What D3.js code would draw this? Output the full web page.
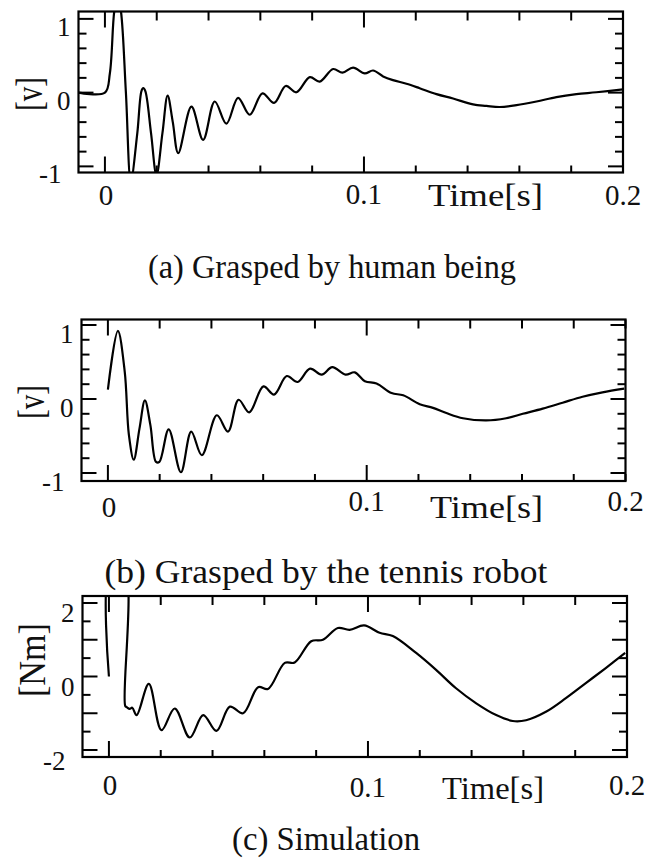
<!DOCTYPE html>
<html><head><meta charset="utf-8">
<script src="https://cdn.jsdelivr.net/npm/d3@7"></script>
<style>body{margin:0;background:#fff}svg{display:block}text{font-family:"Liberation Serif","Times New Roman",serif}</style>
</head><body>
<svg id="chart" width="648" height="861"></svg>
<script>
// ---------------- data ----------------
const timeA = [-0.0102,0,0.0019,0.0036,0.0049,0.0062,0.0081,0.0100,0.0125,0.0141,0.0148,0.0156,0.0178,0.0199,0.0222,0.0242,0.0262,0.0283,0.0334,0.0379,0.0424,0.0469,0.0514,0.0559,0.0608,0.0653,0.0698,0.0739,0.0791,0.0829,0.0881,0.0917,0.0958,0.1003,0.1035,0.1074,0.1112,0.1164,0.1215,0.1280,0.1344,0.1421,0.1473,0.1524,0.1589,0.1666,0.1743,0.1820,0.1897,0.2000];
const valueA = [0,0,0.26,1.10,1.32,1.10,0.00,-1.20,-0.55,0.02,0.06,0.02,-0.55,-1.12,-0.55,-0.04,-0.40,-0.82,-0.19,-0.64,-0.12,-0.42,-0.07,-0.30,-0.01,-0.14,0.09,0.005,0.21,0.15,0.32,0.27,0.34,0.26,0.30,0.22,0.17,0.12,0.06,-0.02,-0.08,-0.16,-0.18,-0.195,-0.17,-0.12,-0.06,-0.02,0.005,0.045];

const timeB = [0,0.00385,0.0065,0.0081,0.0100,0.0122,0.0143,0.0164,0.0186,0.0199,0.0235,0.0282,0.0322,0.0363,0.0421,0.0464,0.0505,0.0546,0.0601,0.0642,0.0691,0.0733,0.0781,0.0826,0.0867,0.0918,0.0954,0.0993,0.1038,0.1096,0.1141,0.1205,0.1256,0.1308,0.1372,0.1462,0.1539,0.1603,0.1680,0.1757,0.1834,0.1911,0.1995];
const valueB = [0.126,0.92,0.37,-0.48,-0.82,-0.40,-0.02,-0.35,-0.85,-0.85,-0.41,-0.99,-0.44,-0.76,-0.22,-0.44,-0.01,-0.18,0.17,0.06,0.31,0.23,0.41,0.33,0.43,0.33,0.36,0.24,0.21,0.08,0.05,-0.07,-0.12,-0.19,-0.26,-0.29,-0.26,-0.20,-0.13,-0.05,0.03,0.09,0.14];

const timeC = [0,0.0006,0.0059,0.0063,0.0070,0.0080,0.0090,0.0107,0.0154,0.0203,0.0254,0.0312,0.0364,0.0415,0.0467,0.0518,0.0576,0.0614,0.0679,0.0717,0.0781,0.0826,0.0884,0.0929,0.0985,0.1045,0.1096,0.1186,0.1263,0.1340,0.1418,0.1495,0.1559,0.1610,0.1687,0.1764,0.1841,0.1918,0.1993];
const valueC = [0,3.0,3.0,-0.80,-0.84,-0.88,-0.85,-1.05,-0.20,-1.46,-0.87,-1.66,-1.05,-1.48,-0.82,-1.00,-0.29,-0.34,0.37,0.38,0.96,1.00,1.32,1.27,1.39,1.19,1.10,0.64,0.18,-0.32,-0.73,-1.05,-1.21,-1.19,-0.96,-0.59,-0.18,0.23,0.64];

const yTickValuesAB = [-1,0,1];
const yTickLabelsAB = ["-1","0","1"];
const yTickValuesC = [-2,0,2];
const yTickLabelsC = ["-2","0","2"];
const xTickValues = [0,0.1,0.2];
const xTickLabels = ["0","0.1","0.2"];
const captions = ["(a) Grasped by human being","(b) Grasped by the tennis robot","(c) Simulation"];
const yTitles = ["[v]","[v]","[Nm]"];
const xTitle = "Time[s]";

// ---------------- layout ----------------
const layout = [
  {t:timeA, v:valueA, left:78.5, right:623, top:11.5, bottom:172.5, yDom:[-1.083,1.10], minorY:0.2, majorY:1,
   yVals:yTickValuesAB, yLabs:yTickLabelsAB, yLabDy:17, xLabBase:[205,204,205], timeX:428, timeW:115, timeBase:206,
   yTitleX:42, yTitleY:94, yTitleW:34, capX:332, capBase:278, capW:368},
  {t:timeB, v:valueB, left:81.5, right:625.5, top:319.5, bottom:481, yDom:[-1.108,1.074], minorY:0.2, majorY:1,
   yVals:yTickValuesAB, yLabs:yTickLabelsAB, yLabDy:18, xLabBase:[517,511,511], timeX:430, timeW:113, timeBase:518,
   yTitleX:44, yTitleY:402, yTitleW:34, capX:326, capBase:583, capW:443},
  {t:timeC, v:valueC, left:82.5, right:627, top:596, bottom:757, yDom:[-2.19,2.19], minorY:0.5, majorY:1,
   yVals:yTickValuesC, yLabs:yTickLabelsC, yLabDy:19.5, xLabBase:[795,797,795], timeX:442, timeW:102, timeBase:799,
   yTitleX:45, yTitleY:660, yTitleW:74, capX:326, capBase:850, capW:188}
];

const svg = d3.select("#chart");

layout.forEach((p, i) => {
  const x = d3.scaleLinear().domain([-0.0102, 0.2]).range([p.left, p.right]);
  const y = d3.scaleLinear().domain(p.yDom).range([p.bottom, p.top]);
  const g = svg.append("g");

  const cid = "clip" + i;
  svg.append("clipPath").attr("id", cid).append("rect")
    .attr("x", p.left).attr("y", p.top).attr("width", p.right - p.left).attr("height", p.bottom - p.top);

  // x ticks every 0.02, major at 0 and 0.1
  const xt = d3.range(0, 0.2001, 0.02);
  xt.forEach(v => {
    const major = Math.abs(v) < 1e-9 || Math.abs(v - 0.1) < 1e-9;
    const xx = x(v);
    g.append("line").attr("x1", xx).attr("x2", xx).attr("y1", p.top).attr("y2", p.top + (major ? 16 : 9))
      .attr("stroke", "#000").attr("stroke-width", 2);
    g.append("line").attr("x1", xx).attr("x2", xx).attr("y1", p.bottom).attr("y2", p.bottom - (major ? 16 : 7))
      .attr("stroke", "#000").attr("stroke-width", 2);
  });
  // y ticks
  const ymin = Math.ceil(p.yDom[0] / p.minorY - 1e-9) * p.minorY;
  const yt = d3.range(ymin, p.yDom[1] + 1e-9, p.minorY);
  yt.forEach(v => {
    const r = v / p.majorY;
    const major = Math.abs(r - Math.round(r)) < 1e-6;
    const yy = y(v);
    const len = major ? 15 : 8;
    g.append("line").attr("x1", p.left).attr("x2", p.left + len).attr("y1", yy).attr("y2", yy)
      .attr("stroke", "#000").attr("stroke-width", 2);
    g.append("line").attr("x1", p.right).attr("x2", p.right - len).attr("y1", yy).attr("y2", yy)
      .attr("stroke", "#000").attr("stroke-width", 2);
  });

  // frame
  g.append("rect").attr("x", p.left).attr("y", p.top).attr("width", p.right - p.left).attr("height", p.bottom - p.top)
    .attr("fill", "none").attr("stroke", "#000").attr("stroke-width", 2.2);

  // curve
  const pts = p.t.map((t, k) => [t, p.v[k]]);
  const line = d3.line().x(d => x(d[0])).y(d => y(d[1])).curve(d3.curveCatmullRom.alpha(0.5));
  g.append("path").datum(pts).attr("d", line).attr("clip-path", `url(#${cid})`)
    .attr("fill", "none").attr("stroke", "#000").attr("stroke-width", 2.2).attr("stroke-linejoin", "round");

  // y tick labels
  p.yVals.forEach((v, k) => {
    const neg = v < 0;
    g.append("text").attr("x", p.left - (neg ? 17 : 8)).attr("y", y(v) + p.yLabDy)
      .attr("text-anchor", "end").attr("font-size", 27).attr("fill", "#111")
      .text(p.yLabs[k]);
  });
  // x tick labels
  xTickValues.forEach((v, k) => {
    g.append("text").attr("x", x(v) + (k === 0 ? 1 : 0)).attr("y", p.xLabBase[k])
      .attr("text-anchor", "middle").attr("font-size", 29).attr("fill", "#111")
      .text(xTickLabels[k]);
  });
  // x title
  g.append("text").attr("x", p.timeX).attr("y", p.timeBase)
    .attr("font-size", 32).attr("fill", "#111")
    .attr("textLength", p.timeW).attr("lengthAdjust", "spacingAndGlyphs").text(xTitle);
  // y title (rotated)
  g.append("text").attr("transform", `translate(${p.yTitleX},${p.yTitleY}) rotate(-90)`)
    .attr("text-anchor", "middle").attr("font-size", 37).attr("fill", "#111")
    .attr("textLength", p.yTitleW).attr("lengthAdjust", "spacingAndGlyphs").text(yTitles[i]);
  // caption
  g.append("text").attr("x", p.capX).attr("y", p.capBase).attr("text-anchor", "middle")
    .attr("font-size", 33).attr("fill", "#111")
    .attr("textLength", p.capW).attr("lengthAdjust", "spacingAndGlyphs").text(captions[i]);
});
</script>
</body></html>
